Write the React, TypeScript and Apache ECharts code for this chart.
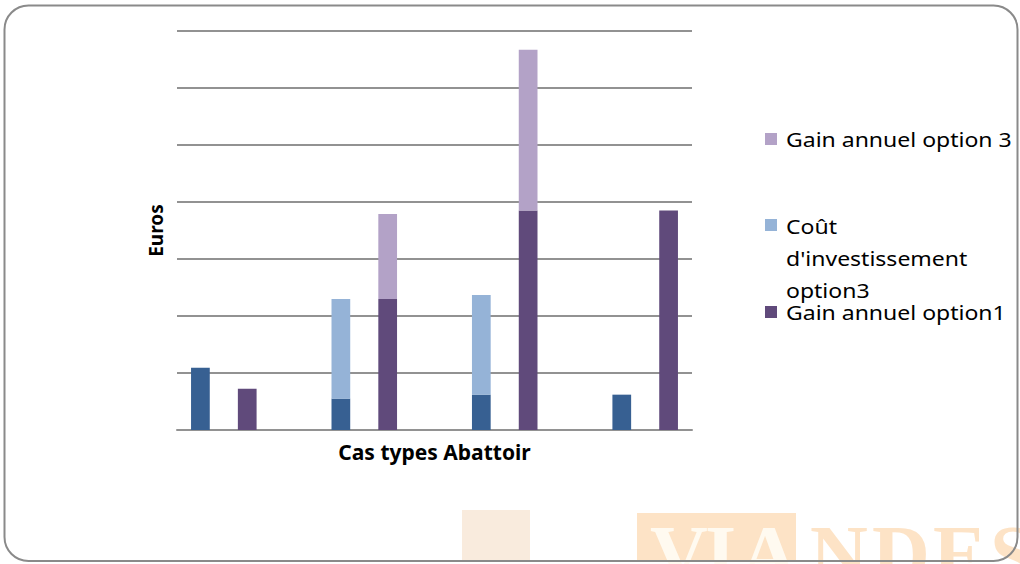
import React, { useEffect, useRef } from "react";
import * as echarts from "echarts";

const caseNames = ["Cas 1", "Cas 2", "Cas 3", "Cas 4"];
const coutOption1 = [10.9, 5.5, 6.2, 6.2];
const coutOption3 = [0, 17.5, 17.5, 0];
const gainOption1 = [7.25, 23.0, 38.5, 38.5];
const gainOption3 = [0, 14.9, 28.2, 0];
const yMax = 70;
const yInterval = 10;

const legendLabels = ["Gain annuel option 3", "Coût\nd'investissement\noption3", "Gain annuel option1"];
const watermarkLetters = ["V", "I", "A", "N", "D", "E", "S"];

const C_BLUE = "#376092";
const C_LBLUE = "#95B3D7";
const C_PURPLE = "#604A7B";
const C_LPURPLE = "#B3A2C7";
const FONT = "Noto Sans";

// 11 slots: [cout, gain, gap] per case (no gap after last)
const slots: string[] = [];
caseNames.forEach((c, i) => {
  slots.push(c + " - coût");
  slots.push(c + " - gain");
  if (i < caseNames.length - 1) slots.push(c + " -");
});

function toSlots(values: number[], kind: "cout" | "gain") {
  const out: (number | string)[] = [];
  values.forEach((v, i) => {
    out.push(kind === "cout" ? (v ? v : "-") : "-");
    out.push(kind === "gain" ? (v ? v : "-") : "-");
    if (i < values.length - 1) out.push("-");
  });
  return out;
}

export default function App() {
  const ref = useRef<HTMLDivElement>(null);
  useEffect(() => {
    if (!ref.current) return;
    const chart = echarts.init(ref.current, undefined, { renderer: "svg" });
    const gridColor = "#929292";
    const letterX = [650, 705, 740, 810, 872, 933, 990];
    const watermark = watermarkLetters.map((l, i) => ({
      type: "text",
      z: -9,
      x: letterX[i],
      y: 594,
      style: {
        text: l,
        fontFamily: "Liberation Serif",
        fontWeight: "bold",
        fontSize: 80,
        verticalAlign: "bottom",
        fill: i < 3 ? "#FFFAF0" : "#FDE3C6",
      },
    }));
    const legendText = (text: string, x: number, y: number, va: string, lh?: number) => ({
      type: "text",
      x,
      y,
      scaleX: 1.18,
      style: {
        text,
        fontFamily: FONT,
        fontSize: 19.5,
        lineHeight: lh,
        fill: "#000",
        verticalAlign: va,
      },
    });
    chart.setOption({
      animation: false,
      backgroundColor: "#ffffff",
      grid: { left: 177, right: 328, top: 31, bottom: 134, containLabel: false },
      xAxis: {
        type: "category",
        data: slots,
        boundaryGap: true,
        axisTick: { show: false },
        axisLabel: { show: false },
        axisLine: { lineStyle: { color: gridColor, width: 2 } },
        name: "Cas types Abattoir",
        nameLocation: "middle",
        nameGap: 11,
        nameTextStyle: { fontFamily: FONT, fontWeight: "bold", fontSize: 21, color: "#000" },
      },
      yAxis: {
        type: "value",
        min: 0,
        max: yMax,
        interval: yInterval,
        axisLabel: { show: false },
        axisLine: { show: false },
        axisTick: { show: false },
        splitLine: { lineStyle: { color: gridColor, width: 2 } },
        name: "Euros",
        nameLocation: "middle",
        nameGap: 12,
        nameRotate: 90,
        nameTextStyle: { fontFamily: FONT, fontWeight: "bold", fontSize: 19, color: "#000" },
      },
      series: [
        {
          name: "Coût d'investissement option1",
          type: "bar",
          stack: "all",
          barWidth: "40%",
          itemStyle: { color: C_BLUE },
          data: toSlots(coutOption1, "cout"),
        },
        {
          name: "Coût d'investissement option3",
          type: "bar",
          stack: "all",
          barWidth: "40%",
          itemStyle: { color: C_LBLUE },
          data: toSlots(coutOption3, "cout"),
        },
        {
          name: "Gain annuel option1",
          type: "bar",
          stack: "all",
          barWidth: "40%",
          itemStyle: { color: C_PURPLE },
          data: toSlots(gainOption1, "gain"),
        },
        {
          name: "Gain annuel option 3",
          type: "bar",
          stack: "all",
          barWidth: "40%",
          itemStyle: { color: C_LPURPLE },
          data: toSlots(gainOption3, "gain"),
        },
      ],
      graphic: [
        // watermark
        { type: "rect", z: -10, shape: { x: 462, y: 510, width: 68, height: 51 }, style: { fill: "#F9EBDD" } },
        { type: "rect", z: -10, shape: { x: 637, y: 513, width: 159, height: 48 }, style: { fill: "#FDE3C6" } },
        ...watermark,
        // legend
        { type: "rect", shape: { x: 765, y: 133, width: 12, height: 12 }, style: { fill: C_LPURPLE } },
        legendText(legendLabels[0], 786, 139, "middle"),
        { type: "rect", shape: { x: 765, y: 219, width: 12, height: 12 }, style: { fill: C_LBLUE } },
        legendText(legendLabels[1], 786, 210, "top", 32),
        { type: "rect", shape: { x: 765, y: 306, width: 12, height: 12 }, style: { fill: C_PURPLE } },
        legendText(legendLabels[2], 786, 312, "middle"),
        // frame
        {
          type: "rect",
          z: 100,
          shape: { x: 4.5, y: 5.5, width: 1013, height: 555.5, r: 24 },
          style: { fill: "none", stroke: "#8a8a8a", lineWidth: 2 },
        },
      ],
    });
    return () => chart.dispose();
  }, []);
  return (
    <div
      ref={ref}
      style={{ position: "fixed", left: 0, top: 0, width: 1020, height: 564 }}
    />
  );
}
